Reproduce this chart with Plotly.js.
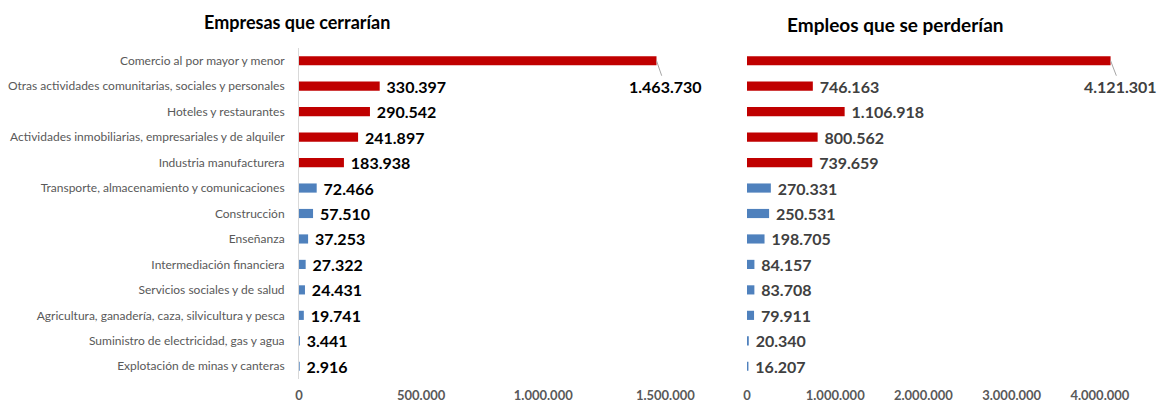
<!DOCTYPE html>
<html>
<head>
<meta charset="utf-8">
<script src="https://cdn.plot.ly/plotly-3.0.1.min.js"></script>
<style>html,body{margin:0;padding:0;background:#fff;}#chart{width:1162px;height:402px;}</style>
</head>
<body>
<div id="chart"></div>
<script>
const categories = [
  "Comercio al por mayor y menor",
  "Otras actividades comunitarias, sociales y personales",
  "Hoteles y restaurantes",
  "Actividades inmobiliarias, empresariales y de alquiler",
  "Industria manufacturera",
  "Transporte, almacenamiento y comunicaciones",
  "Construcción",
  "Enseñanza",
  "Intermediación financiera",
  "Servicios sociales y de salud",
  "Agricultura, ganadería, caza, silvicultura y pesca",
  "Suministro de electricidad, gas y agua",
  "Explotación de minas y canteras"
];
const empresas = [1463730, 330397, 290542, 241897, 183938, 72466, 57510, 37253, 27322, 24431, 19741, 3441, 2916];
const empleos = [4121301, 746163, 1106918, 800562, 739659, 270331, 250531, 198705, 84157, 83708, 79911, 20340, 16207];
const highlighted = [true, true, true, true, true, false, false, false, false, false, false, false, false];
const titleLeft = "Empresas que cerrarían";
const titleRight = "Empleos que se perderían";
const ticksLeft = [0, 500000, 1000000, 1500000];
const ticksRight = [0, 1000000, 2000000, 3000000, 4000000];

function fmt(v){ return String(v).replace(/\B(?=(\d{3})+(?!\d))/g, "."); }
const colors = highlighted.map(h => h ? "#C00000" : "#4F81BD");
const FONT = "Lato, 'Open Sans', sans-serif";

function labels(vals){
  const m = Math.max(...vals);
  return vals.map(v => v === m ? "" : " " + fmt(v));
}

const tr1 = {
  type: "bar", orientation: "h", x: empresas, y: categories,
  marker: {color: colors}, text: labels(empresas), textposition: "outside", constraintext: "none",
  textfont: {family: FONT, size: 16, color: "#000", weight: "bold"},
  cliponaxis: false, xaxis: "x", yaxis: "y", hoverinfo: "x+y"
};
const tr2 = {
  type: "bar", orientation: "h", x: empleos, y: categories,
  marker: {color: colors}, text: labels(empleos), textposition: "outside", constraintext: "none",
  textfont: {family: FONT, size: 16, color: "#404040", weight: "bold"},
  cliponaxis: false, xaxis: "x2", yaxis: "y2", hoverinfo: "x+y"
};

const iMaxL = empresas.indexOf(Math.max(...empresas));
const iMaxR = empleos.indexOf(Math.max(...empleos));

const tickfont = {family: FONT, size: 13, color: "#595959", weight: "bold"};
const yRange = [categories.length - 0.5, -0.5];

const layout = {
  width: 1162, height: 402,
  margin: {l: 0, r: 0, t: 48, b: 23},
  paper_bgcolor: "#fff", plot_bgcolor: "#fff",
  showlegend: false, bargap: 0.64,
  separators: ",.",
  font: {family: FONT},
  xaxis: {domain: [299/1162, 702/1162], range: [0, 1650000], tickvals: ticksLeft, tickformat: ",d",
    showgrid: false, zeroline: false, showline: false, ticks: "", tickfont: tickfont, ticklabelstandoff: 7, fixedrange: true},
  yaxis: {range: yRange, autorange: false, showgrid: false, zeroline: false, showline: true, linecolor: "#d9d9d9", linewidth: 1,
    ticks: "", ticklabelstandoff: 11, tickfont: {family: FONT, size: 12, color: "#595959"}, fixedrange: true},
  xaxis2: {domain: [747/1162, 1144/1162], range: [0, 4500000], tickvals: ticksRight, tickformat: ",d", anchor: "y2",
    showgrid: false, zeroline: false, showline: false, ticks: "", tickfont: tickfont, ticklabelstandoff: 7, fixedrange: true},
  yaxis2: {anchor: "x2", range: yRange, autorange: false, showgrid: false, zeroline: false, showline: false, showticklabels: false, ticks: "", fixedrange: true},
  annotations: [
    {text: titleLeft, xref: "paper", yref: "paper", x: 297/1162, y: 1, yshift: 26, xanchor: "center", yanchor: "middle",
      showarrow: false, font: {family: FONT, size: 18, color: "#000", weight: "bold"}},
    {text: titleRight, xref: "paper", yref: "paper", x: 895/1162, y: 1, yshift: 24, xanchor: "center", yanchor: "middle",
      showarrow: false, font: {family: FONT, size: 19, color: "#000", weight: "bold"}},
    {text: fmt(empresas[iMaxL]), x: empresas[iMaxL], y: categories[iMaxL], xref: "x", yref: "y",
      showarrow: true, arrowhead: 0, arrowwidth: 1, arrowcolor: "#a6a6a6", ax: 9, ay: 26, standoff: 0,
      font: {family: FONT, size: 16, color: "#000", weight: "bold"}},
    {text: fmt(empleos[iMaxR]), x: empleos[iMaxR], y: categories[iMaxR], xref: "x2", yref: "y2",
      showarrow: true, arrowhead: 0, arrowwidth: 1, arrowcolor: "#a6a6a6", ax: 10, ay: 26, standoff: 0,
      font: {family: FONT, size: 16, color: "#404040", weight: "bold"}}
  ]
};

Plotly.newPlot("chart", [tr1, tr2], layout, {displayModeBar: false, staticPlot: true});
</script>
</body>
</html>
